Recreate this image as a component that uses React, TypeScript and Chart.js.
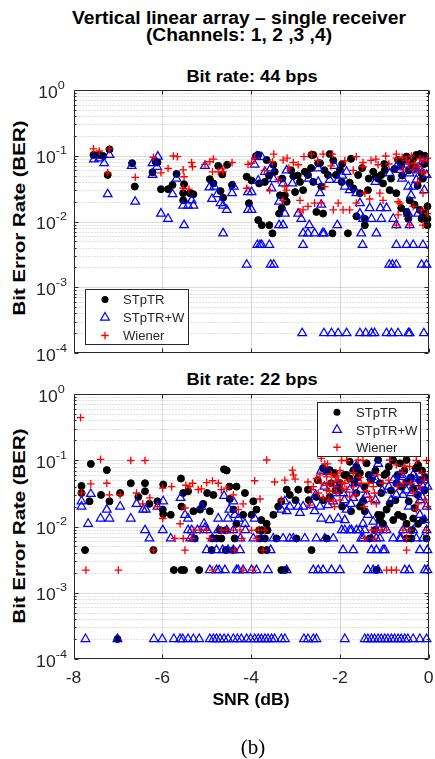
import { useEffect, useRef } from 'react';
import { Chart, registerables } from 'chart.js';

Chart.register(...registerables);

type Pt = [number, number];

// ---- axes ----
const SNR_MIN = -8;
const SNR_MAX = 0;
const BER_MIN = 1e-4;
const BER_MAX = 1;
const xTickValues = [-8, -6, -4, -2, 0];
const yDecades = [-4, -3, -2, -1, 0];
const seriesNames = ['STpTR', 'STpTR+W', 'Wiener'];

// ---- Bit rate 44 bps : (SNR dB, BER) ----
const ber44Stptr: Pt[] = [
  [-7.55, 0.103], [-7.43, 0.103], [-7.33, 0.099], [-7.19, 0.125], [-7.23, 0.051], [-6.68, 0.077], [-6.62, 0.034],
  [-6.22, 0.056], [-6.15, 0.081], [-6.11, 0.079], [-6.03, 0.031], [-5.87, 0.031], [-5.77, 0.036], [-5.68, 0.053],
  [-5.51, 0.037], [-5.53, 0.027], [-5.38, 0.027], [-5.3, 0.026], [-5.53, 0.021], [-4.74, 0.07], [-4.54, 0.073],
  [-4.65, 0.052], [-4.93, 0.044], [-4.85, 0.038], [-4.69, 0.029], [-4.63, 0.023], [-4.43, 0.036], [-4.1, 0.048],
  [-3.89, 0.099], [-3.84, 0.103], [-3.65, 0.086], [-3.5, 0.073], [-3.47, 0.057], [-3.99, 0.042], [-3.82, 0.038],
  [-3.69, 0.04], [-3.84, 0.0105], [-3.76, 0.0088], [-3.59, 0.0088], [-3.52, 0.0066], [-3.35, 0.025], [-3.24, 0.025],
  [-3.2, 0.02], [-3.31, 0.016], [-3.05, 0.049], [-3.01, 0.028], [-2.9, 0.04], [-2.83, 0.03], [-2.79, 0.057],
  [-2.6, 0.103], [-2.49, 0.077], [-2.72, 0.051], [-2.6, 0.04], [-2.42, 0.034], [-2.38, 0.0132], [-2.23, 0.106],
  [-2.27, 0.051], [-2.09, 0.051], [-2.0, 0.061], [-1.96, 0.04], [-1.82, 0.0066], [-1.78, 0.039], [-1.7, 0.032],
  [-1.59, 0.051], [-1.44, 0.011], [-1.44, 0.0088], [-1.55, 0.027], [-1.37, 0.03], [-1.25, 0.057], [-1.19, 0.048],
  [-1.14, 0.045], [-1.07, 0.051], [-0.99, 0.061], [-1.03, 0.038], [-0.88, 0.03], [-0.77, 0.063], [-0.69, 0.086],
  [-0.62, 0.07], [-0.5, 0.097], [-0.39, 0.073], [-0.28, 0.103], [-0.2, 0.106], [-0.16, 0.054], [-0.13, 0.045],
  [-0.43, 0.021], [-0.32, 0.018], [-0.2, 0.015], [-0.16, 0.011], [-0.13, 0.0132], [-0.73, 0.027], [-0.62, 0.016],
  [-0.5, 0.014], [-0.03, 0.011], [-0.03, 0.017], [-0.03, 0.0088], [-2.53, 0.014], [-1.63, 0.012], [-4.05, 0.019],
  [-3.37, 0.0132], [-2.17, 0.0066], [-0.46, 0.011], [-0.49, 0.0132], [-0.08, 0.0132], [-0.08, 0.011], [-2.64, 0.103],
  [-2.45, 0.077], [-0.09, 0.1], [-3.6, 0.05], [-3.3, 0.045], [-3.1, 0.06], [-2.95, 0.05], [-2.65, 0.065],
  [-2.35, 0.06], [-2.15, 0.085], [-1.95, 0.075], [-1.75, 0.09], [-1.5, 0.065], [-1.35, 0.045], [-1.0, 0.075],
  [-0.85, 0.045], [-0.6, 0.05], [-0.45, 0.06], [-0.3, 0.065], [-0.25, 0.035], [-0.1, 0.075], [-0.55, 0.085],
  [-0.35, 0.09],
];

const ber44StptrW: Pt[] = [
  [-7.54, 0.088], [-7.42, 0.091], [-7.31, 0.077], [-7.19, 0.103], [-7.23, 0.026], [-6.69, 0.07], [-6.61, 0.02],
  [-6.22, 0.077], [-6.1, 0.097], [-6.22, 0.051], [-6.12, 0.068], [-6.03, 0.0132], [-5.87, 0.011], [-5.77, 0.026],
  [-5.68, 0.045], [-5.51, 0.0088], [-5.53, 0.0175], [-5.42, 0.0175], [-5.3, 0.0175], [-5.34, 0.021], [-5.04, 0.07],
  [-4.94, 0.033], [-4.83, 0.034], [-4.88, 0.022], [-4.76, 0.026], [-4.69, 0.019], [-4.63, 0.0175], [-4.55, 0.015],
  [-4.63, 0.0066], [-4.43, 0.027], [-4.39, 0.034], [-4.1, 0.0022], [-4.07, 0.028], [-4.07, 0.015],
  [-3.88, 0.097], [-3.76, 0.095], [-3.92, 0.073], [-3.69, 0.057], [-3.56, 0.064], [-3.49, 0.044], [-3.84, 0.042],
  [-3.99, 0.028], [-3.99, 0.015], [-3.54, 0.032], [-3.37, 0.02], [-3.28, 0.038], [-3.07, 0.038], [-3.24, 0.0132],
  [-2.94, 0.0132], [-2.87, 0.011], [-3.37, 0.0088], [-3.28, 0.0088], [-2.69, 0.0088], [-2.83, 0.0066], [-2.72, 0.0066],
  [-2.57, 0.0066], [-2.39, 0.0066], [-2.06, 0.0088], [-3.86, 0.0044], [-3.76, 0.0044], [-3.59, 0.0044], [-2.83, 0.0044],
  [-1.49, 0.0044], [-3.56, 0.0022], [-3.49, 0.0022], [-2.49, 0.064], [-2.49, 0.04], [-2.45, 0.027], [-2.42, 0.018],
  [-2.23, 0.043], [-2.12, 0.07], [-2.04, 0.043], [-1.85, 0.057], [-1.89, 0.034], [-1.78, 0.03], [-1.63, 0.027],
  [-1.55, 0.019], [-1.55, 0.0132], [-1.33, 0.016], [-1.29, 0.011], [-1.48, 0.011], [-1.18, 0.0066], [-1.07, 0.011],
  [-1.09, 0.016], [-0.95, 0.016], [-0.88, 0.054], [-0.73, 0.068], [-0.65, 0.061], [-0.5, 0.073], [-0.43, 0.054],
  [-0.35, 0.034], [-0.46, 0.034], [-0.28, 0.043], [-0.2, 0.064], [-0.13, 0.084], [-0.05, 0.051], [-0.8, 0.011],
  [-0.73, 0.0088], [-0.46, 0.0132], [-0.24, 0.0132], [-0.43, 0.0088], [-0.73, 0.0044], [-0.5, 0.0044], [-0.35, 0.0044],
  [-0.13, 0.0044], [-0.89, 0.0022], [-0.82, 0.0022], [-0.73, 0.0022], [-0.16, 0.0022], [-0.05, 0.0022], [-3.8, 0.0044],
  [-1.52, 0.0066], [-2.36, 0.0066], [-3.2, 0.06], [-2.7, 0.045], [-1.95, 0.05], [-1.2, 0.04], [-0.6, 0.045],
  [-0.25, 0.06], [-0.1, 0.03], [-0.4, 0.025],
  [-2.85, 0.0002], [-2.36, 0.0002], [-2.19, 0.0002], [-2.04, 0.0002], [-1.85, 0.0002], [-1.55, 0.0002], [-1.42, 0.0002],
  [-1.29, 0.0002], [-1.22, 0.0002], [-0.95, 0.0002], [-0.84, 0.0002], [-0.69, 0.0002], [-0.46, 0.0002], [-0.43, 0.0002],
  [-0.11, 0.0002],
];

const ber44Wiener: Pt[] = [
  [-7.55, 0.127], [-7.42, 0.118], [-7.19, 0.127], [-7.23, 0.055], [-6.61, 0.047], [-6.2, 0.095], [-6.03, 0.055],
  [-5.87, 0.064], [-5.75, 0.099], [-5.66, 0.097], [-5.53, 0.061], [-5.51, 0.048], [-5.53, 0.032], [-5.4, 0.031],
  [-5.34, 0.079], [-5.32, 0.068], [-5.04, 0.074], [-4.93, 0.081], [-4.85, 0.089], [-4.87, 0.057], [-4.74, 0.057],
  [-4.64, 0.063], [-4.63, 0.057], [-4.43, 0.079], [-4.07, 0.074], [-4.1, 0.032],
  [-3.92, 0.092], [-3.99, 0.077], [-3.49, 0.106], [-3.52, 0.081], [-3.28, 0.086], [-3.19, 0.092], [-3.05, 0.079],
  [-2.94, 0.073], [-2.81, 0.097], [-2.64, 0.106], [-2.38, 0.106], [-2.17, 0.106], [-1.89, 0.084], [-1.63, 0.097],
  [-1.48, 0.079], [-1.48, 0.068], [-1.19, 0.089], [-1.14, 0.073], [-0.97, 0.099], [-0.73, 0.106], [-0.73, 0.092],
  [-0.5, 0.086], [-0.39, 0.099], [-0.32, 0.077], [-0.24, 0.068], [-0.13, 0.084], [-0.03, 0.092], [-0.16, 0.057],
  [-0.35, 0.061], [-0.58, 0.061], [-3.39, 0.043], [-3.58, 0.03], [-3.24, 0.034], [-2.9, 0.021], [-2.83, 0.015],
  [-2.72, 0.017], [-2.57, 0.019], [-2.42, 0.019], [-2.15, 0.015], [-2.04, 0.019], [-1.93, 0.015], [-1.78, 0.015],
  [-1.63, 0.019], [-1.44, 0.027], [-1.33, 0.022], [-1.1, 0.027], [-1.03, 0.021], [-0.69, 0.02], [-0.73, 0.0088],
  [-0.43, 0.0088], [-0.13, 0.0088], [-0.35, 0.017], [-0.03, 0.0132], [-0.13, 0.027], [-3.2, 0.03], [-3.28, 0.021],
  [-2.34, 0.034], [-0.69, 0.0126], [-0.16, 0.015], [-0.65, 0.019], [-2.9, 0.014], [-3.7, 0.06], [-3.15, 0.065],
  [-2.5, 0.085], [-2.2, 0.07], [-1.7, 0.06], [-1.3, 0.085], [-0.9, 0.075], [-0.6, 0.095], [-0.45, 0.075],
  [-0.2, 0.09], [-0.1, 0.055], [-0.25, 0.04],
];

// ---- Bit rate 22 bps : (SNR dB, BER) ----
const ber22Stptr: Pt[] = [
  [-7.61, 0.088], [-7.25, 0.071], [-7.82, 0.041], [-7.82, 0.032], [-7.64, 0.024], [-7.38, 0.03], [-7.19, 0.024],
  [-6.95, 0.032], [-6.71, 0.045], [-6.39, 0.045], [-6.39, 0.034], [-6.54, 0.028], [-6.29, 0.022], [-6.11, 0.024],
  [-5.98, 0.043], [-5.99, 0.018], [-5.98, 0.0154], [-5.81, 0.015], [-5.58, 0.053], [-5.53, 0.032], [-5.42, 0.034],
  [-5.3, 0.017], [-5.15, 0.018], [-5.08, 0.022], [-4.93, 0.017], [-4.99, 0.032], [-4.85, 0.03], [-4.61, 0.073],
  [-4.55, 0.07], [-4.49, 0.04], [-4.33, 0.04], [-4.48, 0.026], [-4.4, 0.018], [-4.33, 0.011], [-4.18, 0.015],
  [-4.14, 0.032], [-7.74, 0.0044], [-6.2, 0.0044], [-5.74, 0.0022], [-5.57, 0.0022], [-5.51, 0.0022], [-5.17, 0.0022],
  [-4.87, 0.0066], [-4.78, 0.0066], [-4.67, 0.0066], [-4.37, 0.0066], [-4.89, 0.0044], [-4.57, 0.0044], [-4.4, 0.0044],
  [-4.57, 0.0088], [-4.7, 0.0088], [-5.27, 0.0066], [-5.57, 0.02], [-7.01, 0.0002],
  [-3.95, 0.024], [-3.88, 0.018], [-3.99, 0.015], [-3.77, 0.0125], [-3.65, 0.011], [-3.5, 0.015], [-3.39, 0.02],
  [-3.32, 0.024], [-3.2, 0.036], [-3.13, 0.03], [-2.94, 0.036], [-2.72, 0.036], [-2.53, 0.028], [-2.38, 0.025],
  [-2.23, 0.028], [-2.3, 0.067], [-2.23, 0.071], [-2.12, 0.064], [-2.38, 0.076], [-1.78, 0.095], [-1.63, 0.08],
  [-1.55, 0.064], [-1.4, 0.09], [-1.78, 0.053], [-1.67, 0.045], [-1.63, 0.032], [-1.55, 0.02], [-1.48, 0.024],
  [-1.44, 0.017], [-1.14, 0.101], [-0.95, 0.064], [-1.07, 0.032], [-1.1, 0.0125], [-1.03, 0.011], [-1.14, 0.015],
  [-0.88, 0.022], [-0.8, 0.0125], [-0.69, 0.015], [-0.58, 0.014], [-0.5, 0.011], [-0.35, 0.0132], [-0.24, 0.011],
  [-0.13, 0.0125], [-0.73, 0.045], [-0.62, 0.04], [-0.5, 0.047], [-0.35, 0.038], [-0.2, 0.05], [-0.09, 0.056],
  [-0.65, 0.09], [-0.5, 0.101], [-0.24, 0.085], [-0.32, 0.019], [-0.5, 0.0066], [-0.39, 0.0066], [-0.05, 0.0066],
  [-2.64, 0.0044], [-3.32, 0.0022], [-3.24, 0.0022], [-2.98, 0.0066], [-3.77, 0.0044], [-3.65, 0.0044], [-3.43, 0.0066],
  [-2.3, 0.0066], [-1.33, 0.0066], [-1.22, 0.0088], [-1.18, 0.0022], [-0.39, 0.0088], [-1.07, 0.0148], [-3.82, 0.0088],
  [-3.75, 0.0088], [-3.63, 0.0088], [-3.8, 0.0066], [-3.69, 0.0066], [-2.0, 0.045], [-1.9, 0.06], [-1.7, 0.07],
  [-2.1, 0.035], [-1.3, 0.05], [-1.2, 0.07], [-0.9, 0.08], [-0.8, 0.1],
  [-2.5, 0.05], [-2.2, 0.045], [-2.0, 0.035], [-1.85, 0.06], [-1.6, 0.055], [-1.45, 0.04], [-1.35, 0.06],
  [-1.1, 0.045], [-1.0, 0.06], [-0.85, 0.035], [-0.7, 0.06], [-0.55, 0.07], [-0.4, 0.055], [-0.3, 0.075],
  [-0.15, 0.07], [-0.1, 0.035], [-2.7, 0.025], [-3.0, 0.025], [-1.95, 0.02], [-1.75, 0.017], [-0.95, 0.018],
  [-0.75, 0.025], [-0.45, 0.024], [-0.25, 0.03],
];

const ber22StptrW: Pt[] = [
  [-7.82, 0.024], [-7.82, 0.02], [-7.61, 0.031], [-7.67, 0.011], [-7.39, 0.0132], [-7.25, 0.018], [-7.19, 0.0132],
  [-6.95, 0.02], [-6.71, 0.0132], [-6.58, 0.022], [-6.43, 0.018], [-6.37, 0.018], [-6.39, 0.0088], [-6.29, 0.0066],
  [-6.11, 0.02], [-5.98, 0.024], [-5.99, 0.0088], [-5.81, 0.0066], [-5.59, 0.027], [-5.49, 0.015], [-5.42, 0.0132],
  [-5.42, 0.0088], [-5.37, 0.0066], [-5.3, 0.0066], [-5.21, 0.0088], [-5.12, 0.02], [-5.06, 0.011], [-5.04, 0.0095],
  [-4.99, 0.0088], [-4.87, 0.0066], [-4.74, 0.0132], [-4.74, 0.0088], [-4.61, 0.029], [-4.49, 0.018], [-4.52, 0.0132],
  [-4.4, 0.024], [-4.37, 0.015], [-4.29, 0.0132], [-4.24, 0.0066], [-4.14, 0.011], [-5.0, 0.0044], [-4.78, 0.0044],
  [-4.52, 0.0044], [-4.25, 0.0044], [-4.93, 0.0022], [-4.78, 0.0022], [-4.72, 0.0022], [-4.59, 0.0022], [-4.29, 0.0022],
  [-4.18, 0.0022], [-4.64, 0.0044], [-4.4, 0.0044], [-4.55, 0.0088], [-4.4, 0.0088], [-4.13, 0.0088], [-5.34, 0.0088],
  [-2.42, 0.07], [-1.14, 0.088], [-2.27, 0.067], [-1.63, 0.082], [-1.29, 0.056], [-1.18, 0.05], [-0.65, 0.06],
  [-0.58, 0.056], [-0.8, 0.05], [-0.46, 0.05], [-0.28, 0.053], [-0.32, 0.045], [-0.13, 0.04], [-0.03, 0.04],
  [-0.73, 0.03], [-0.58, 0.03], [-0.39, 0.032], [-0.2, 0.025], [-0.05, 0.02], [-3.24, 0.024], [-3.13, 0.02],
  [-2.94, 0.02], [-2.83, 0.02], [-2.64, 0.021], [-2.45, 0.02], [-2.27, 0.021], [-2.15, 0.024], [-2.08, 0.032],
  [-1.93, 0.032], [-1.78, 0.036], [-1.7, 0.027], [-1.85, 0.018], [-1.55, 0.036], [-1.48, 0.025], [-3.92, 0.0132],
  [-3.32, 0.018], [-3.2, 0.017], [-2.9, 0.016], [-2.57, 0.017], [-2.42, 0.0132], [-2.23, 0.0125], [-2.04, 0.0132],
  [-1.89, 0.0125], [-1.89, 0.0088], [-1.74, 0.0088], [-1.63, 0.0088], [-1.48, 0.011], [-1.37, 0.015], [-1.25, 0.0118],
  [-1.44, 0.0088], [-1.1, 0.0088], [-3.28, 0.0066], [-3.13, 0.0066], [-3.05, 0.0066], [-2.79, 0.0066], [-2.53, 0.0066],
  [-2.34, 0.0066], [-2.15, 0.0066], [-1.48, 0.0066], [-1.29, 0.0066], [-1.18, 0.0066], [-0.8, 0.0066], [-0.62, 0.0066],
  [-0.28, 0.0066], [-0.13, 0.0066], [-0.58, 0.0088], [-0.2, 0.015], [-0.09, 0.0125], [-3.77, 0.0066], [-1.93, 0.0044],
  [-1.7, 0.0044], [-1.29, 0.0044], [-1.18, 0.0044], [-1.03, 0.0044], [-0.2, 0.0044], [-3.56, 0.0044], [-0.99, 0.0044],
  [-0.03, 0.0044], [-3.95, 0.0066], [-3.5, 0.0066], [-1.52, 0.0066], [-1.1, 0.0066], [-0.65, 0.0066], [-1.96, 0.0088],
  [-1.78, 0.0088], [-1.55, 0.0088], [-1.18, 0.0088], [-0.95, 0.0088], [-0.35, 0.0088], [-0.05, 0.0088],
  [-2.35, 0.04], [-2.05, 0.045], [-1.9, 0.025], [-1.65, 0.045], [-1.4, 0.03], [-1.05, 0.035], [-0.9, 0.04],
  [-0.7, 0.045], [-0.5, 0.035], [-0.35, 0.06], [-0.2, 0.035], [-0.1, 0.05], [-2.55, 0.03], [-1.75, 0.022],
  [-1.2, 0.025], [-0.85, 0.025], [-0.45, 0.02], [-0.15, 0.028],
  [-3.88, 0.0022], [-3.62, 0.0022], [-3.2, 0.0022], [-2.6, 0.0022], [-2.49, 0.0022], [-2.38, 0.0022], [-2.19, 0.0022],
  [-2.0, 0.0022], [-1.37, 0.0022], [-1.25, 0.0022], [-1.14, 0.0022], [-0.54, 0.0022], [-0.44, 0.0022], [-0.09, 0.0022],
  [-0.03, 0.0022], [-3.99, 0.0022], [-4.33, 0.0022],
  [-7.73, 0.0002], [-7.01, 0.0002], [-6.19, 0.0002], [-6.0, 0.0002], [-5.74, 0.0002], [-5.6, 0.0002], [-5.54, 0.0002],
  [-5.42, 0.0002], [-5.3, 0.0002], [-5.17, 0.0002], [-4.93, 0.0002], [-4.85, 0.0002], [-4.78, 0.0002], [-4.7, 0.0002],
  [-4.61, 0.0002], [-4.52, 0.0002], [-4.4, 0.0002], [-4.31, 0.0002], [-4.22, 0.0002], [-4.1, 0.0002], [-4.01, 0.0002],
  [-3.92, 0.0002], [-3.84, 0.0002], [-3.77, 0.0002], [-3.69, 0.0002], [-3.62, 0.0002], [-3.54, 0.0002], [-3.47, 0.0002],
  [-3.32, 0.0002], [-3.24, 0.0002], [-2.81, 0.0002], [-2.72, 0.0002], [-2.6, 0.0002], [-2.53, 0.0002], [-1.89, 0.0002],
  [-1.44, 0.0002], [-1.37, 0.0002], [-1.29, 0.0002], [-1.22, 0.0002], [-1.14, 0.0002], [-1.07, 0.0002], [-0.99, 0.0002],
  [-0.92, 0.0002], [-0.84, 0.0002], [-0.77, 0.0002], [-0.69, 0.0002], [-0.62, 0.0002], [-0.54, 0.0002], [-0.47, 0.0002],
  [-0.35, 0.0002], [-0.2, 0.0002], [-0.05, 0.0002],
];

const ber22Wiener: Pt[] = [
  [-7.84, 0.44], [-7.39, 0.103], [-6.71, 0.099], [-6.39, 0.099], [-7.61, 0.044], [-7.82, 0.032], [-7.25, 0.045],
  [-7.19, 0.03], [-6.95, 0.03], [-6.58, 0.032], [-6.44, 0.022], [-6.28, 0.027], [-6.11, 0.02], [-5.99, 0.038],
  [-5.99, 0.0132], [-5.79, 0.04], [-5.6, 0.011], [-5.49, 0.019], [-5.47, 0.042], [-5.38, 0.04], [-5.32, 0.045],
  [-5.19, 0.036], [-5.12, 0.037], [-5.0, 0.046], [-4.87, 0.049], [-4.74, 0.045], [-4.67, 0.036], [-4.55, 0.038],
  [-4.4, 0.03], [-4.29, 0.018], [-4.18, 0.022], [-5.53, 0.0066], [-5.72, 0.0066], [-5.29, 0.0088], [-5.15, 0.0088],
  [-5.0, 0.0088], [-4.93, 0.0066], [-4.67, 0.0088], [-4.55, 0.0088], [-4.4, 0.0088], [-4.25, 0.0088], [-4.21, 0.0066],
  [-5.49, 0.0044], [-7.72, 0.0022], [-6.99, 0.0022], [-4.87, 0.0022], [-4.18, 0.0022], [-4.37, 0.0044], [-5.34, 0.0066],
  [-6.2, 0.0044],
  [-3.65, 0.101], [-3.92, 0.049], [-3.47, 0.047], [-3.8, 0.026], [-3.99, 0.0088], [-3.84, 0.0088], [-3.69, 0.0088],
  [-3.88, 0.0066], [-3.73, 0.0044], [-3.95, 0.0022], [-3.32, 0.025], [-3.24, 0.05], [-3.05, 0.06], [-3.01, 0.052],
  [-2.72, 0.047], [-2.68, 0.021], [-2.42, 0.107], [-2.34, 0.088], [-2.28, 0.088], [-2.53, 0.053], [-2.42, 0.045],
  [-2.3, 0.056], [-2.19, 0.047], [-2.12, 0.04], [-2.08, 0.032], [-2.23, 0.034], [-2.38, 0.027], [-2.04, 0.05],
  [-1.96, 0.099], [-1.85, 0.099], [-1.89, 0.045], [-1.85, 0.036], [-1.78, 0.028], [-1.7, 0.04], [-1.59, 0.101],
  [-1.48, 0.099], [-1.52, 0.045], [-1.4, 0.034], [-1.33, 0.028], [-1.29, 0.024], [-1.22, 0.032], [-1.18, 0.022],
  [-1.25, 0.04], [-1.03, 0.045], [-0.95, 0.0088], [-1.07, 0.0088], [-1.18, 0.0088], [-1.44, 0.0066], [-1.22, 0.0066],
  [-0.95, 0.0022], [-0.84, 0.0022], [-0.73, 0.0022], [-0.88, 0.101], [-0.73, 0.085], [-0.54, 0.082], [-0.43, 0.08],
  [-0.28, 0.099], [-0.16, 0.064], [-0.05, 0.099], [-0.58, 0.045], [-0.35, 0.032], [-0.28, 0.018], [-0.24, 0.022],
  [-0.09, 0.025], [-0.58, 0.0088], [-0.43, 0.0088], [-0.5, 0.0044], [-0.03, 0.02], [-2.64, 0.036], [-2.49, 0.032],
  [-2.15, 0.024], [-2.0, 0.025], [-2.12, 0.02], [-3.07, 0.071], [-2.2, 0.062], [-2.05, 0.058], [-1.95, 0.038],
  [-2.3, 0.042], [-0.5, 0.0066], [-0.05, 0.0088], [-1.29, 0.0088],
  [-2.45, 0.06], [-2.3, 0.035], [-2.25, 0.025], [-2.1, 0.055], [-1.95, 0.045], [-1.8, 0.05], [-1.65, 0.03],
  [-1.55, 0.055], [-1.45, 0.02], [-1.35, 0.045], [-1.15, 0.06], [-0.9, 0.05], [-0.7, 0.04], [-0.6, 0.065],
  [-0.4, 0.045], [-0.2, 0.04], [-0.1, 0.05], [-2.6, 0.04], [-2.0, 0.07], [-1.7, 0.065],
];

// ---- styling ----
const FONT = '"Liberation Sans", Arial, Helvetica, sans-serif';
const SX = 1.1; // horizontal stretch applied to figure text
const INK = '#262626';

type Series = { name: string; data: Pt[] };
type LegendBox = { x: number; y: number; w: number; h: number; rowH: number; markerDx: number; textDx: number };

const markerStyles = [
  { pointStyle: 'circle', radius: 3.5, backgroundColor: '#000000', borderColor: '#000000', borderWidth: 1 },
  { pointStyle: 'triangle', radius: 5, backgroundColor: 'rgba(0,0,0,0)', borderColor: '#0000ff', borderWidth: 1.25 },
  { pointStyle: 'cross', radius: 3.8, backgroundColor: '#ff0000', borderColor: '#ff0000', borderWidth: 1.35 },
];

function drawText(
  ctx: CanvasRenderingContext2D, text: string, x: number, y: number, font: string, align: CanvasTextAlign, sx = SX,
) {
  ctx.save();
  ctx.font = font;
  ctx.translate(x, y);
  ctx.scale(sx, 1);
  ctx.textAlign = align;
  ctx.textBaseline = 'alphabetic';
  ctx.fillStyle = INK;
  ctx.fillText(text, 0, 0);
  ctx.restore();
}

function drawMarker(ctx: CanvasRenderingContext2D, idx: number, x: number, y: number) {
  const s = markerStyles[idx];
  ctx.save();
  ctx.lineWidth = s.borderWidth;
  ctx.strokeStyle = s.borderColor;
  ctx.fillStyle = s.backgroundColor;
  ctx.beginPath();
  if (idx === 0) {
    ctx.arc(x, y, s.radius, 0, Math.PI * 2);
    ctx.fill();
  } else if (idx === 1) {
    const r = s.radius;
    ctx.moveTo(x, y - r);
    ctx.lineTo(x + r * Math.sin((2 * Math.PI) / 3), y - r * Math.cos((2 * Math.PI) / 3));
    ctx.lineTo(x + r * Math.sin((4 * Math.PI) / 3), y - r * Math.cos((4 * Math.PI) / 3));
    ctx.closePath();
    ctx.stroke();
  } else {
    const r = s.radius;
    ctx.moveTo(x - r, y);
    ctx.lineTo(x + r, y);
    ctx.moveTo(x, y - r);
    ctx.lineTo(x, y + r);
    ctx.stroke();
  }
  ctx.restore();
}

type PanelProps = {
  top: number;
  height: number;
  padTop: number;
  xAxisHeight: number;
  series: Series[];
  legend: LegendBox;
  showXTicks: boolean;
};

function BerPanel({ top, height, padTop, xAxisHeight, series, legend, showXTicks }: PanelProps) {
  const ref = useRef<HTMLCanvasElement | null>(null);

  useEffect(() => {
    const canvas = ref.current;
    if (!canvas) return;

    const framePlugin = {
      id: 'berFrame',
      beforeDatasetsDraw(chart: any) {
        const { ctx, chartArea: a } = chart;
        const xs = chart.scales.x;
        const ys = chart.scales.y;
        ctx.save();
        ctx.lineWidth = 1;
        // minor grid (dotted)
        ctx.strokeStyle = 'rgba(38,38,38,0.28)';
        ctx.setLineDash([1, 2]);
        ctx.beginPath();
        for (const e of [-4, -3, -2, -1]) {
          for (let m = 2; m <= 9; m++) {
            const py = Math.round(ys.getPixelForValue(m * Math.pow(10, e))) + 0.5;
            ctx.moveTo(a.left, py);
            ctx.lineTo(a.right, py);
          }
        }
        ctx.stroke();
        // major grid (solid)
        ctx.setLineDash([]);
        ctx.strokeStyle = 'rgba(38,38,38,0.17)';
        ctx.beginPath();
        for (const e of yDecades.slice(1, -1)) {
          const py = Math.round(ys.getPixelForValue(Math.pow(10, e))) + 0.5;
          ctx.moveTo(a.left, py);
          ctx.lineTo(a.right, py);
        }
        for (const v of xTickValues.slice(1, -1)) {
          const px = Math.round(xs.getPixelForValue(v)) + 0.5;
          ctx.moveTo(px, a.top);
          ctx.lineTo(px, a.bottom);
        }
        ctx.stroke();
        ctx.restore();
      },
      afterDatasetsDraw(chart: any) {
        const { ctx, chartArea: a } = chart;
        const xs = chart.scales.x;
        const ys = chart.scales.y;
        const L = Math.round(a.left) + 0.5;
        const R = Math.round(a.right) - 0.5;
        const T = Math.round(a.top) + 0.5;
        const B = Math.round(a.bottom) - 0.5;
        ctx.save();
        ctx.strokeStyle = INK;
        ctx.lineWidth = 1;
        ctx.beginPath();
        ctx.rect(L, T, R - L, B - T);
        // inward ticks
        for (const e of yDecades) {
          const py = Math.round(ys.getPixelForValue(Math.pow(10, e))) + 0.5;
          ctx.moveTo(L, py); ctx.lineTo(L + 4, py);
          ctx.moveTo(R, py); ctx.lineTo(R - 4, py);
          if (e < 0) {
            for (let m = 2; m <= 9; m++) {
              const pm = Math.round(ys.getPixelForValue(m * Math.pow(10, e))) + 0.5;
              ctx.moveTo(L, pm); ctx.lineTo(L + 2, pm);
              ctx.moveTo(R, pm); ctx.lineTo(R - 2, pm);
            }
          }
        }
        for (const v of xTickValues) {
          const px = Math.round(xs.getPixelForValue(v)) + 0.5;
          ctx.moveTo(px, B); ctx.lineTo(px, B - 4);
          ctx.moveTo(px, T); ctx.lineTo(px, T + 4);
        }
        ctx.stroke();
        ctx.restore();
      },
      afterDraw(chart: any) {
        const { ctx, chartArea: a } = chart;
        const xs = chart.scales.x;
        const ys = chart.scales.y;
        // y tick labels: 10 with a superscript exponent
        const baseFont = `16px ${FONT}`;
        const expFont = `11.5px ${FONT}`;
        for (const e of yDecades) {
          const py = ys.getPixelForValue(Math.pow(10, e));
          const exp = String(e);
          ctx.font = baseFont;
          const bw = ctx.measureText('10').width * SX;
          ctx.font = expFont;
          const ew = ctx.measureText(exp).width * SX;
          const cx = a.left - 22;
          const left = cx - (bw + ew) / 2;
          drawText(ctx, '10', left, py + 2 + 5.7, baseFont, 'left');
          drawText(ctx, exp, left + bw, py - 5.5 + 4.1, expFont, 'left');
        }
        if (showXTicks) {
          for (const v of xTickValues) {
            const px = xs.getPixelForValue(v);
            drawText(ctx, String(v), px, a.bottom + 18 + 5.7, `16px ${FONT}`, 'center');
          }
        }
        // legend
        ctx.save();
        ctx.fillStyle = '#ffffff';
        ctx.fillRect(legend.x, legend.y, legend.w, legend.h);
        ctx.strokeStyle = INK;
        ctx.lineWidth = 1;
        ctx.strokeRect(legend.x + 0.5, legend.y + 0.5, legend.w, legend.h);
        ctx.restore();
        series.forEach((s, i) => {
          const cy = legend.y + legend.rowH * (i + 0.5) + 1.5;
          drawMarker(ctx, i, legend.x + legend.markerDx, cy);
          drawText(ctx, s.name, legend.x + legend.textDx, cy + 4.8, `13.5px ${FONT}`, 'left', 0.97);
        });
      },
    };

    const chart = new Chart(canvas, {
      type: 'scatter',
      data: {
        datasets: series.map((s, i) => ({
          label: s.name,
          data: s.data.map(([x, y]) => ({ x, y })),
          pointStyle: markerStyles[i].pointStyle as any,
          pointRadius: markerStyles[i].radius,
          pointBackgroundColor: markerStyles[i].backgroundColor,
          pointBorderColor: markerStyles[i].borderColor,
          pointBorderWidth: markerStyles[i].borderWidth,
          pointHoverRadius: markerStyles[i].radius,
          showLine: false,
          clip: false as any,
          order: 3 - i,
        })),
      },
      options: {
        animation: false,
        responsive: false,
        devicePixelRatio: 1,
        events: [],
        layout: { padding: { left: 0, right: 6, top: padTop, bottom: 0 } },
        plugins: { legend: { display: false }, tooltip: { enabled: false }, title: { display: false } },
        scales: {
          x: {
            type: 'linear',
            min: SNR_MIN,
            max: SNR_MAX,
            grid: { display: false },
            border: { display: false },
            ticks: { display: false },
            afterFit: (scale: any) => { scale.height = xAxisHeight; },
          },
          y: {
            type: 'logarithmic',
            min: BER_MIN,
            max: BER_MAX,
            grid: { display: false },
            border: { display: false },
            ticks: { display: false },
            afterFit: (scale: any) => { scale.width = 73.5; },
          },
        },
      },
      plugins: [framePlugin],
    });
    return () => chart.destroy();
  }, []);

  return (
    <canvas
      ref={ref}
      width={435}
      height={height}
      style={{ position: 'absolute', left: 0, top, width: 435, height, display: 'block' }}
    />
  );
}

function Label({ text, x, y, size, bold = true, rotate = false, family = FONT, sx = SX }: {
  text: string; x: number; y: number; size: number; bold?: boolean; rotate?: boolean; family?: string; sx?: number;
}) {
  const tf = rotate
    ? `translate(-50%, -50%) rotate(-90deg) scale(${sx}, 1)`
    : `translate(-50%, -50%) scale(${sx}, 1)`;
  return (
    <div
      style={{
        position: 'absolute',
        left: x,
        top: y,
        transform: tf,
        whiteSpace: 'nowrap',
        fontFamily: family,
        fontSize: size,
        fontWeight: bold ? 700 : 400,
        lineHeight: 1,
        color: '#000',
      }}
    >
      {text}
    </div>
  );
}

const panel44: Series[] = [
  { name: seriesNames[0], data: ber44Stptr },
  { name: seriesNames[1], data: ber44StptrW },
  { name: seriesNames[2], data: ber44Wiener },
];
const panel22: Series[] = [
  { name: seriesNames[0], data: ber22Stptr },
  { name: seriesNames[1], data: ber22StptrW },
  { name: seriesNames[2], data: ber22Wiener },
];

export default function App() {
  return (
    <div style={{ position: 'absolute', left: 0, top: 0, width: 435, height: 759, background: '#ffffff', overflow: 'hidden' }}>
      <Label text="Vertical linear array – single receiver" x={239} y={19} size={17.5} />
      <Label text="(Channels: 1, 2 ,3 ,4)" x={239} y={36} size={17.5} />
      <Label text="Bit rate: 44 bps" x={252} y={76} size={16.5} />
      <Label text="Bit rate: 22 bps" x={252} y={379} size={16.5} />
      <Label text="Bit Error Rate (BER)" x={19} y={218} size={17} rotate sx={1.2} />
      <Label text="Bit Error Rate (BER)" x={19} y={526} size={17} rotate sx={1.2} />
      <BerPanel
        top={0}
        height={362}
        padTop={90}
        xAxisHeight={9}
        series={panel44}
        legend={{ x: 85, y: 289, w: 103, h: 55, rowH: 18, markerDx: 20, textDx: 38 }}
        showXTicks={false}
      />
      <BerPanel
        top={362}
        height={397}
        padTop={32}
        xAxisHeight={100}
        series={panel22}
        legend={{ x: 317, y: 40, w: 103, h: 54, rowH: 17.5, markerDx: 20, textDx: 39 }}
        showXTicks
      />
      <Label text="SNR (dB)" x={251} y={700} size={16} />
      <Label text="(b)" x={253} y={747} size={21} bold={false} family='"Liberation Serif", "Times New Roman", serif' sx={1} />
    </div>
  );
}
